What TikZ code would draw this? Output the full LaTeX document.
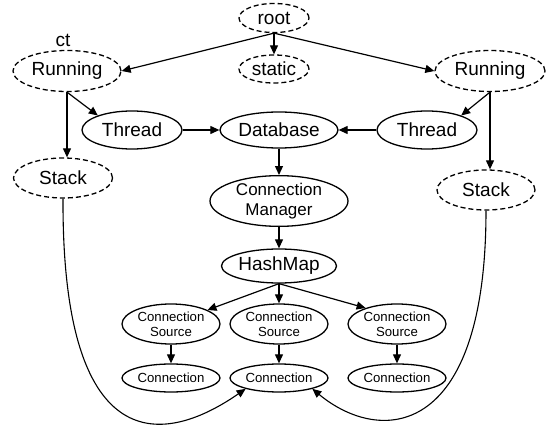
\documentclass[tikz,border=0pt]{standalone}
\usepackage{fontspec}
\setmainfont{Liberation Sans}
\usetikzlibrary{shapes.geometric,arrows.meta}
\begin{document}
\begin{tikzpicture}[x=1pt,y=-1pt,
  base/.style={ellipse,draw,line width=1.3pt,inner sep=0pt,align=center},
  dashnode/.style={base,dash pattern=on 5pt off 3pt},
  big/.style={font=\fontsize{19}{21}\selectfont},
  mid/.style={font=\fontsize{17}{20}\selectfont},
  small/.style={font=\fontsize{13.2}{15}\selectfont},
  arr/.style={line width=1.2pt,-{Triangle[length=9pt,width=8pt]}},
  curve/.style={line width=1.1pt,-{Triangle[length=9pt,width=8pt]}}]
\useasboundingbox (0,0) rectangle (550,425);
% nodes
\node[dashnode,big,minimum width=70pt,minimum height=29pt] (root) at (274,18) {root};
\node[dashnode,big,minimum width=70pt,minimum height=28pt] (static) at (274,69) {static};
\node[dashnode,big,minimum width=108pt,minimum height=41pt] (rl) at (67,71) {Running};
\node[dashnode,big,minimum width=110pt,minimum height=41pt] (rr) at (490,71) {Running};
\node[big] (ct) at (63,40) {ct};
\node[base,big,minimum width=100pt,minimum height=38pt] (tl) at (132,130) {Thread};
\node[base,big,minimum width=118pt,minimum height=36pt] (db) at (279,130) {Database};
\node[base,big,minimum width=100pt,minimum height=38pt] (tr) at (427,130) {Thread};
\node[dashnode,big,minimum width=99pt,minimum height=40pt] (sl) at (63,178) {Stack};
\node[dashnode,big,minimum width=98pt,minimum height=40pt] (sr) at (486,190) {Stack};
\node[base,mid,minimum width=138pt,minimum height=48pt] (cmgr) at (279,201) {Connection\\Manager};
\node[base,big,minimum width=98pt,minimum height=34pt] (hm) at (279,266) {HashMap};
\node[base,small,minimum width=98pt,minimum height=40pt] (csl) at (171,324) {Connection\\Source};
\node[base,small,minimum width=98pt,minimum height=40pt] (csm) at (279,324) {Connection\\Source};
\node[base,small,minimum width=98pt,minimum height=40pt] (csr) at (397,324) {Connection\\Source};
\node[base,small,minimum width=98pt,minimum height=28pt] (cl) at (171,378) {Connection};
\node[base,small,minimum width=98pt,minimum height=28pt] (cm) at (279,378) {Connection};
\node[base,small,minimum width=98pt,minimum height=28pt] (cr) at (397,378) {Connection};
% edges
\draw[arr] (root.south) -- (rl.east);
\draw[arr] (root.south) -- (rr.west);
\draw[arr] (root.south) -- (static.north);
\draw[arr] (rl.south) -- (tl.157);
\draw[arr] (rl.south) -- (rl.south |- sl.north);
\draw[arr] (rr.south) -- (tr.23);
\draw[arr] (rr.south) -- (rr.south |- sr.north);
\draw[arr] (tl.east) -- (db.west);
\draw[arr] (tr.west) -- (db.east);
\draw[arr] (db.south) -- (cmgr.north);
\draw[arr] (cmgr.south) -- (hm.north);
\draw[arr] (hm.south) -- (csl.21);
\draw[arr] (hm.south) -- (csm.north);
\draw[arr] (hm.south) -- (csr.153);
\draw[arr] (csl.south) -- (cl.north);
\draw[arr] (csm.south) -- (cm.north);
\draw[arr] (csr.south) -- (cr.north);
\draw[curve] (sl.south) .. controls (62,440) and (150,455) .. (cm.198);
\draw[curve] (sr.south) .. controls (486,440) and (380,445) .. (cm.-18);
\end{tikzpicture}
\end{document}
